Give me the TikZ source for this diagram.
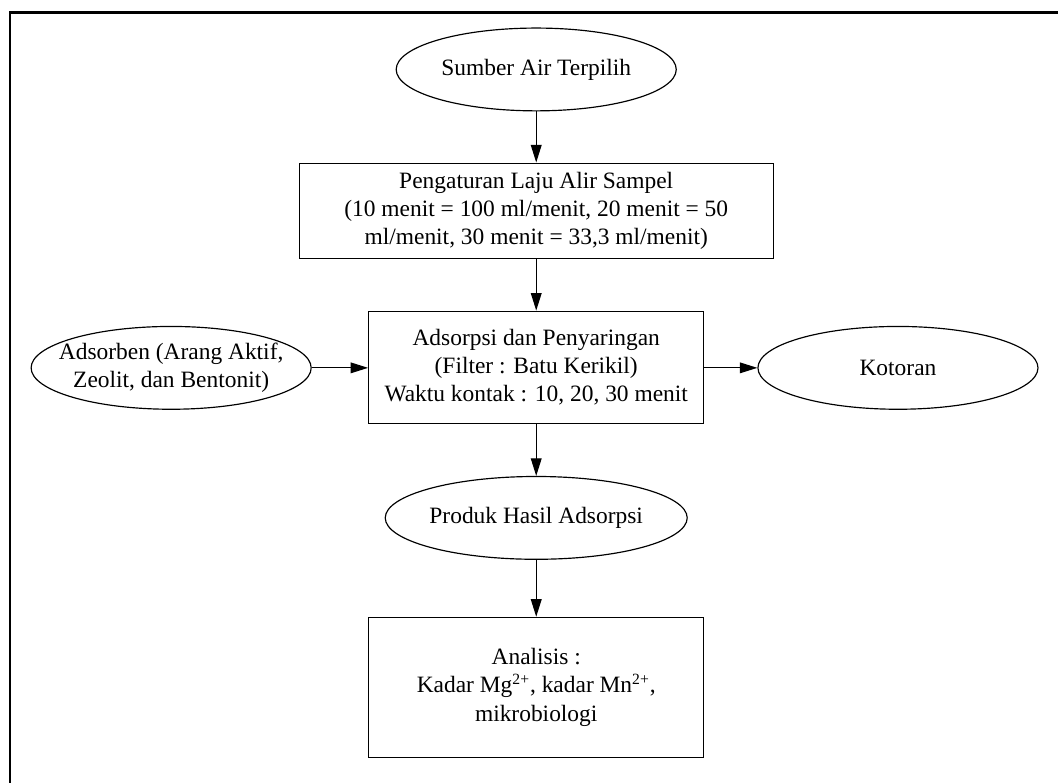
\documentclass[tikz,border=0pt]{standalone}
\usepackage{fontspec}
\setmainfont{Liberation Serif}
\usetikzlibrary{shapes.geometric,arrows.meta}

\begin{document}
\begin{tikzpicture}[
        oval/.style={ellipse, draw, line width=0.6pt, minimum width=5.04cm, minimum height=1.49cm, inner sep=0pt, align=center, font=\fontsize{12}{14.4}\selectfont},
        box/.style={rectangle, draw, line width=0.6pt, minimum width=6.03cm, inner sep=0pt, align=center, font=\fontsize{12}{14.4}\selectfont},
        arrow/.style={-{Triangle[length=9pt,width=5.5pt]}, line width=0.6pt},
        frame/.style={line width=1.4pt}
    ]
        \useasboundingbox (0,0) rectangle (19.04,-14.09);

        % Page frame (top and left edge only)
        \draw[frame] (19.04,-0.22) -- (0.18,-0.22) -- (0.18,-14.09);

        % Main column
        \node[oval] (Sumber) at (9.65,-1.25) {Sumber Air Terpilih};
        \node[box, minimum width=8.53cm, minimum height=1.71cm] (Laju) at (9.65,-3.79)
            {Pengaturan Laju Alir Sampel\\(10 menit = 100 ml/menit, 20 menit = 50\\ml/menit, 30 menit = 33,3 ml/menit)};
        \node[box, minimum height=2.02cm] (Adsorpsi) at (9.65,-6.61)
            {Adsorpsi dan Penyaringan\\(Filter : Batu Kerikil)\\Waktu kontak : 10, 20, 30 menit};
        \node[oval] (Produk) at (9.65,-9.32) {Produk Hasil Adsorpsi};
        \node[box, minimum height=2.52cm] (Analisis) at (9.65,-12.37)
            {Analisis :\\Kadar Mg\textsuperscript{2+}, kadar Mn\textsuperscript{2+},\\mikrobiologi};

        % Side nodes
        \node[oval, inner xsep=-0.25cm] (Adsorben) at (3.08,-6.62) {Adsorben (Arang Aktif,\\Zeolit, dan Bentonit)};
        \node[oval] (Kotoran) at (16.16,-6.62) {Kotoran};

        % Flow arrows
        \draw[arrow] (Sumber) -- (Laju);
        \draw[arrow] (Laju) -- (Adsorpsi);
        \draw[arrow] (Adsorpsi) -- (Produk);
        \draw[arrow] (Produk) -- (Analisis);
        \draw[arrow] (Adsorben.east) -- (Adsorben.east -| Adsorpsi.west);
        \draw[arrow] (Kotoran.west -| Adsorpsi.east) -- (Kotoran.west);
    \end{tikzpicture}
\end{document}
